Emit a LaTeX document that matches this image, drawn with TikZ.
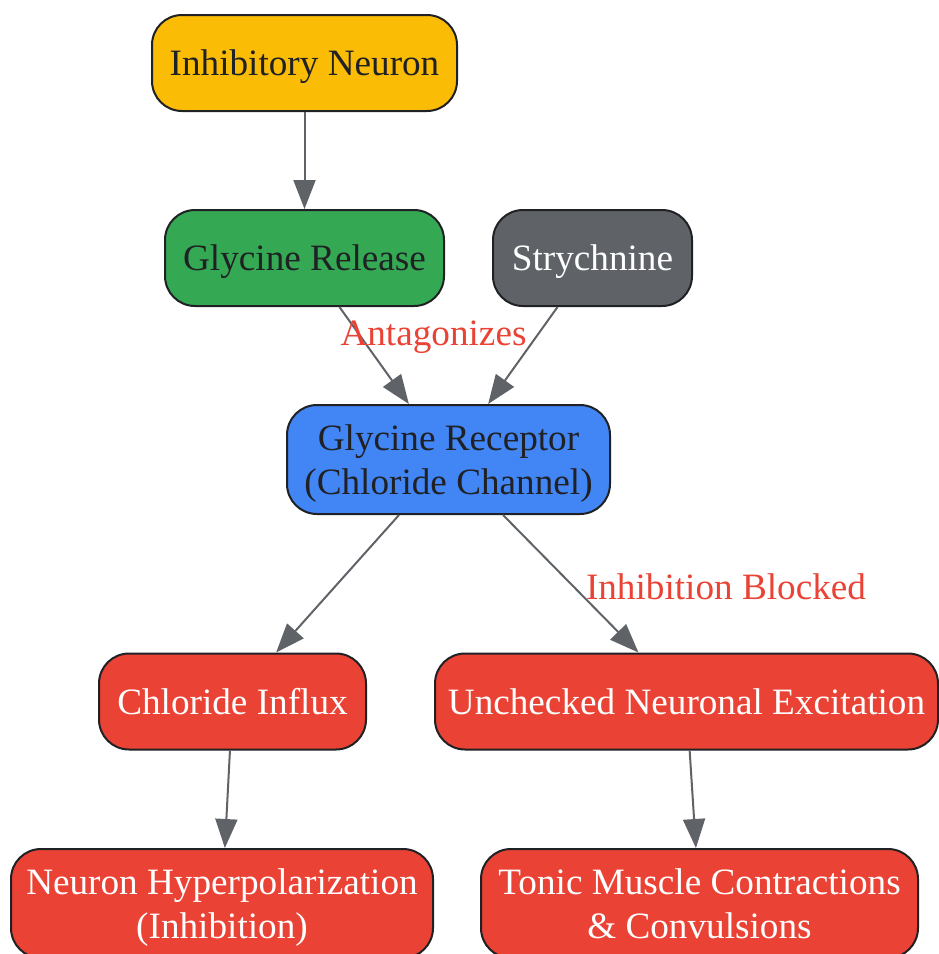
\documentclass[tikz,border=0pt]{standalone}
\usepackage{fontspec}
\setmainfont{Liberation Serif}
\usetikzlibrary{arrows.meta}
\definecolor{cyellow}{HTML}{FBBC05}
\definecolor{cgreen}{HTML}{34A853}
\definecolor{cgrey}{HTML}{5F6368}
\definecolor{cblue}{HTML}{4285F4}
\definecolor{cred}{HTML}{EA4335}
\definecolor{cdark}{HTML}{202124}
\begin{document}
\begin{tikzpicture}[x=1pt,y=-1pt,
  box/.style={draw=cdark, line width=2pt, rounded corners=30pt, inner sep=0pt,
    align=center, font=\fontsize{37.2}{44}\selectfont, text=cdark, text depth=-2pt},
  wtext/.style={text=white},
  conn/.style={draw=cgrey, line width=2pt, -{Triangle[length=29pt,width=22pt]}},
  elabel/.style={text=cred, font=\fontsize{37.2}{44}\selectfont, inner sep=0pt}]
\useasboundingbox (0,0) rectangle (938,954);
\node[box, fill=cyellow, minimum width=305pt, minimum height=96pt] (inh) at (304.5,63) {Inhibitory Neuron};
\node[box, fill=cgreen, minimum width=279pt, minimum height=96pt] (gr) at (304.5,258) {Glycine Release};
\node[box, fill=cgrey, wtext, minimum width=199pt, minimum height=96pt] (str) at (592.5,258) {Strychnine};
\node[box, fill=cblue, minimum width=323pt, minimum height=109pt] (rec) at (448.5,459.5) {Glycine Receptor\\(Chloride Channel)};
\node[box, fill=cred, wtext, minimum width=267pt, minimum height=96pt] (cl) at (232.5,701.5) {Chloride Influx};
\node[box, fill=cred, wtext, minimum width=503pt, minimum height=96pt] (unc) at (686.5,701.5) {Unchecked Neuronal Excitation};
\node[box, fill=cred, wtext, minimum width=422pt, minimum height=109pt] (hyp) at (222,903.5) {Neuron Hyperpolarization\\(Inhibition)};
\node[box, fill=cred, wtext, minimum width=437pt, minimum height=109pt] (ton) at (699.5,903.5) {Tonic Muscle Contractions\\\& Convulsions};
\draw[conn] (inh) -- (gr);
\draw[conn] (gr) -- (rec);
\draw[conn] (str) -- (rec);
\node[elabel] (lab1) at (433.5,337) {Antagonizes};
\draw[conn] (rec) -- (cl);
\draw[conn] (rec) -- (unc);
\node[elabel] (lab2) at (726,587) {Inhibition Blocked};
\draw[conn] (cl) -- (hyp);
\draw[conn] (unc) -- (ton);
\end{tikzpicture}
\end{document}
